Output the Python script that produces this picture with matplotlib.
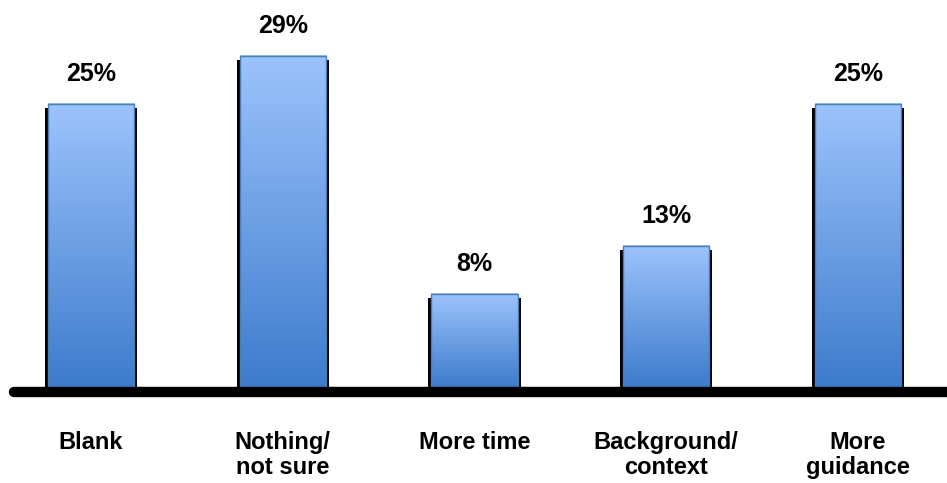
import matplotlib.pyplot as plt
import numpy as np
from matplotlib.colors import LinearSegmentedColormap
from matplotlib.patches import Rectangle
from matplotlib.transforms import offset_copy

categories = ["Blank", "Nothing/\nnot sure", "More time", "Background/\ncontext", "More\nguidance"]
values = [25.0, 29.2, 8.3, 12.5, 25.0]
value_labels = ["25%", "29%", "8%", "13%", "25%"]

BAR_WIDTH = 0.45
PX_PER_UNIT = 11.38
ZERO_PX = 388
grad = LinearSegmentedColormap.from_list("bar", ["#3d7bcc", "#9dc3fc"])

fig = plt.figure(figsize=(9.47, 4.83), dpi=100)
ax = fig.add_axes([10 / 947, (483 - ZERO_PX) / 483, 937 / 947, ZERO_PX / 483])
xlim = (-0.4225, 4.464)
ylim = (0, ZERO_PX / PX_PER_UNIT)
ax.axis("off")

x = np.arange(len(categories))
ramp = np.linspace(0, 1, 256).reshape(-1, 1)

for xi, v, lab in zip(x, values, value_labels):
    left = xi - BAR_WIDTH / 2
    # drop shadow behind the bar (a little wider, a little lower)
    sh = offset_copy(ax.transData, fig=fig, x=0, y=-4, units="dots")
    ax.add_patch(Rectangle((left - 0.016, 0), BAR_WIDTH + 0.032, v, facecolor="black",
                           edgecolor="none", transform=sh, zorder=1))
    ax.imshow(ramp, cmap=grad, origin="lower", aspect="auto",
              extent=(left, left + BAR_WIDTH, 0, v), zorder=2, interpolation="bilinear")
    ax.add_patch(Rectangle((left, 0), BAR_WIDTH, v, facecolor="none",
                           edgecolor="#4a7ebb", linewidth=1.0, zorder=3))
    ax.annotate(lab, (xi, v), xytext=(0, 16.5), textcoords="offset points",
                ha="center", va="baseline", fontsize=18, fontweight="bold",
                family="Liberation Sans", color="black")

# thick black baseline
ax.plot([xlim[0] + 0.02, xlim[1]], [-4 / PX_PER_UNIT] * 2, color="black", linewidth=7.5,
        solid_capstyle="round", clip_on=False, zorder=4)

ax.set_xlim(*xlim)
ax.set_ylim(*ylim)

for xi, c in zip(x, categories):
    ax.annotate(c, (xi, 0), xytext=(0, -31), textcoords="offset points",
                ha="center", va="top", fontsize=17, fontweight="bold",
                family="Liberation Sans", color="black", linespacing=1.1,
                annotation_clip=False)

fig.savefig("out.png", dpi=100)
